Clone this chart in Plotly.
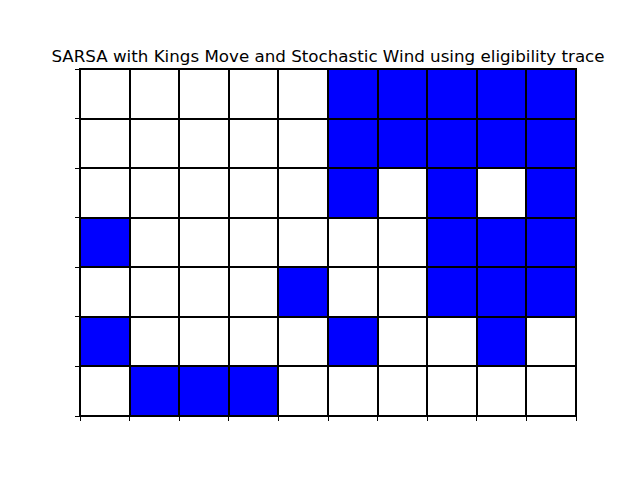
import plotly.graph_objects as go

n_cols = 10
n_rows = 7
# 1 = blue cell, 0 = white cell; rows listed top to bottom
grid = [
    [0, 0, 0, 0, 0, 1, 1, 1, 1, 1],
    [0, 0, 0, 0, 0, 1, 1, 1, 1, 1],
    [0, 0, 0, 0, 0, 1, 0, 1, 0, 1],
    [1, 0, 0, 0, 0, 0, 0, 1, 1, 1],
    [0, 0, 0, 0, 1, 0, 0, 1, 1, 1],
    [1, 0, 0, 0, 0, 1, 0, 0, 1, 0],
    [0, 1, 1, 1, 0, 0, 0, 0, 0, 0],
]
title = "SARSA with Kings Move and Stochastic Wind using eligibility trace"

x_centers = [c + 0.5 for c in range(n_cols)]
y_centers = [n_rows - r - 0.5 for r in range(n_rows)]

fig = go.Figure(go.Heatmap(
    z=grid, x=x_centers, y=y_centers,
    zmin=0, zmax=1,
    colorscale=[[0, "white"], [1, "blue"]],
    showscale=False, xgap=2, ygap=2, hoverinfo="skip",
))

fig.update_layout(
    width=640, height=480,
    margin=dict(l=80, r=64, t=69, b=64),
    paper_bgcolor="white", plot_bgcolor="black",
    font=dict(family="DejaVu Sans", color="black"),
    title=dict(text=title, x=0.5, xref="paper", y=1, yref="paper",
               yanchor="bottom", xanchor="center", pad=dict(b=7),
               font=dict(size=16.7, family="DejaVu Sans", color="black")),
)
fig.update_xaxes(range=[0, n_cols], tickvals=list(range(n_cols + 1)),
                 showticklabels=False, ticks="outside", ticklen=4,
                 tickcolor="black", showgrid=False, zeroline=False,
                 showline=True, linecolor="black", linewidth=1, mirror=True)
fig.update_yaxes(range=[0, n_rows], tickvals=list(range(n_rows + 1)),
                 showticklabels=False, ticks="outside", ticklen=4,
                 tickcolor="black", showgrid=False, zeroline=False,
                 showline=True, linecolor="black", linewidth=1, mirror=True)

fig.write_html("out.html")
